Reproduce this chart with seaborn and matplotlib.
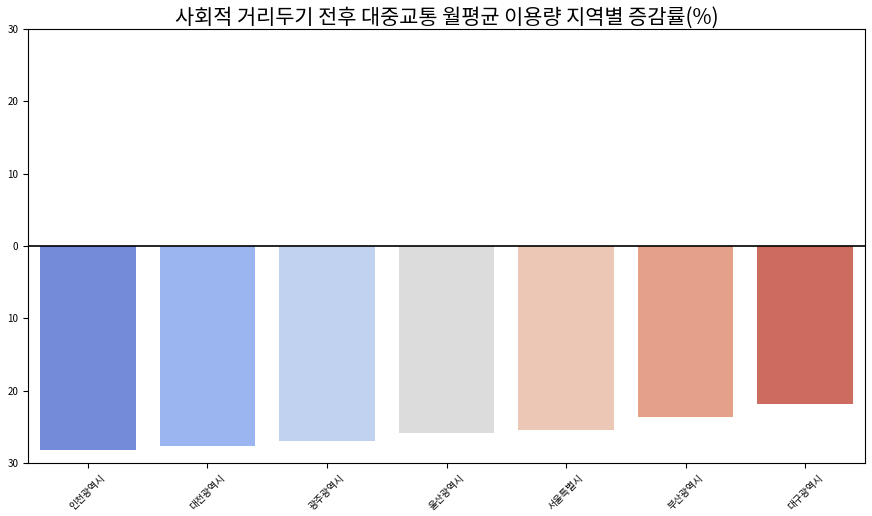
import matplotlib
matplotlib.use("Agg")
import matplotlib.pyplot as plt
from matplotlib.ticker import FuncFormatter
import seaborn as sns
import pandas as pd

regions = ["인천광역시", "대전광역시", "광주광역시", "울산광역시", "서울특별시", "부산광역시", "대구광역시"]
change_pct = [-28.2, -27.6, -26.9, -25.8, -25.4, -23.6, -21.8]

df = pd.DataFrame({"region": regions, "change": change_pct})

plt.rcParams['font.family'] = ['Noto Sans CJK KR', 'DejaVu Sans']
plt.rcParams['axes.unicode_minus'] = False

fig = plt.figure(figsize=(8.72, 5.16), dpi=100)
ax = fig.add_axes([28/872, 1 - 463/516, (865-28)/872, (463-29)/516])

sns.barplot(data=df, x="region", y="change", hue="region", palette="coolwarm",
            legend=False, ax=ax)
ax.axhline(0, color="black", linewidth=1.2)
ax.set_ylim(-30, 30)
ax.set_yticks([-30, -20, -10, 0, 10, 20, 30])
ax.yaxis.set_major_formatter(FuncFormatter(lambda v, p: f"{abs(int(round(v)))}"))
ax.set_xlabel("")
ax.set_ylabel("")
ax.tick_params(axis="x", labelrotation=45, labelsize=7)
ax.tick_params(axis="y", labelsize=7)
ax.set_title("사회적 거리두기 전후 대중교통 월평균 이용량 지역별 증감률(%)", fontsize=15, pad=2)

fig.savefig("out.png", dpi=100)
